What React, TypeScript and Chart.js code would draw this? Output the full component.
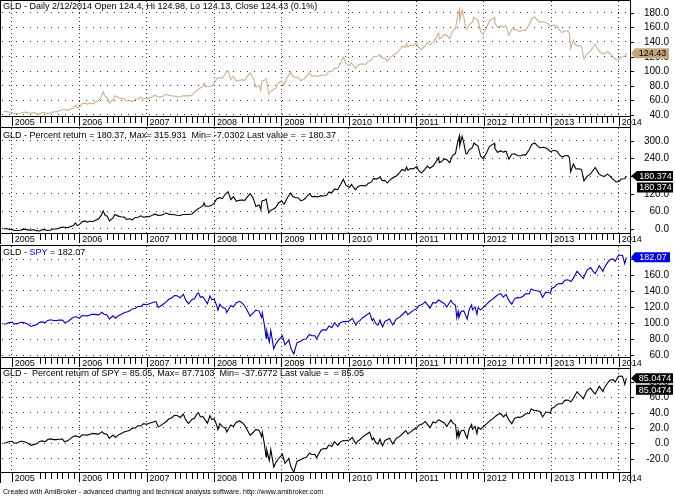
import React, { useEffect, useRef } from "react";
import { Chart, registerables } from "chart.js";
Chart.register(...registerables);

// ---------------- DATA ----------------
const gldDates = [
  "2004-11-18","2004-12-01","2004-12-15","2005-01-03","2005-01-14","2005-02-01","2005-02-15","2005-03-01","2005-03-15","2005-04-01",
  "2005-04-15","2005-05-02","2005-05-16","2005-06-01","2005-06-15","2005-07-01","2005-07-15","2005-08-01","2005-08-15","2005-09-01",
  "2005-09-15","2005-10-03","2005-10-14","2005-11-01","2005-11-15","2005-12-01","2005-12-12","2005-12-22","2006-01-03","2006-01-17",
  "2006-02-01","2006-02-15","2006-03-01","2006-03-15","2006-04-03","2006-04-17","2006-05-01","2006-05-11","2006-05-22","2006-06-01",
  "2006-06-14","2006-07-03","2006-07-14","2006-08-01","2006-08-15","2006-09-01","2006-09-15","2006-10-02","2006-10-16","2006-11-01",
  "2006-11-15","2006-12-01","2006-12-15","2007-01-03","2007-01-16","2007-02-01","2007-02-15","2007-03-01","2007-03-15","2007-04-02",
  "2007-04-16","2007-05-01","2007-05-15","2007-06-01","2007-06-15","2007-07-02","2007-07-16","2007-08-01","2007-08-15","2007-09-04",
  "2007-09-17","2007-10-01","2007-10-15","2007-11-01","2007-11-08","2007-11-15","2007-12-03","2007-12-17","2008-01-02","2008-01-15",
  "2008-02-01","2008-02-15","2008-03-03","2008-03-17","2008-04-01","2008-04-15","2008-05-01","2008-05-15","2008-06-02","2008-06-16",
  "2008-07-01","2008-07-15","2008-08-01","2008-08-15","2008-09-02","2008-09-11","2008-09-17","2008-10-01","2008-10-10","2008-10-24",
  "2008-11-03","2008-11-14","2008-12-01","2008-12-15","2009-01-02","2009-01-15","2009-02-02","2009-02-20","2009-03-02","2009-03-16",
  "2009-04-01","2009-04-15","2009-05-01","2009-05-15","2009-06-01","2009-06-15","2009-07-01","2009-07-15","2009-08-03","2009-08-17",
  "2009-09-01","2009-09-15","2009-10-01","2009-10-15","2009-11-02","2009-11-16","2009-12-02","2009-12-15","2010-01-04","2010-01-15",
  "2010-02-05","2010-02-16","2010-03-01","2010-03-15","2010-04-01","2010-04-15","2010-05-03","2010-05-14","2010-06-01","2010-06-18",
  "2010-07-01","2010-07-15","2010-07-28","2010-08-16","2010-09-01","2010-09-15","2010-10-01","2010-10-15","2010-11-01","2010-11-09",
  "2010-11-16","2010-12-01","2010-12-15","2011-01-03","2011-01-14","2011-01-28","2011-02-15","2011-03-01","2011-03-15","2011-04-01",
  "2011-04-15","2011-05-02","2011-05-05","2011-05-16","2011-06-01","2011-06-15","2011-07-01","2011-07-15","2011-08-01","2011-08-10",
  "2011-08-22","2011-08-24","2011-09-06","2011-09-15","2011-09-26","2011-10-03","2011-10-14","2011-11-01","2011-11-08","2011-11-15",
  "2011-12-01","2011-12-15","2011-12-29","2012-01-16","2012-02-01","2012-02-28","2012-03-01","2012-03-15","2012-04-02","2012-04-16",
  "2012-05-01","2012-05-16","2012-06-01","2012-06-15","2012-07-02","2012-07-16","2012-08-01","2012-08-15","2012-09-04","2012-09-17",
  "2012-10-04","2012-10-15","2012-11-01","2012-11-15","2012-12-03","2012-12-14","2012-12-28","2013-01-15","2013-02-01","2013-02-15",
  "2013-03-01","2013-03-15","2013-04-01","2013-04-10","2013-04-16","2013-05-01","2013-05-15","2013-06-03","2013-06-14","2013-06-27",
  "2013-07-15","2013-08-01","2013-08-27","2013-09-16","2013-10-01","2013-10-15","2013-11-01","2013-11-15","2013-12-02","2013-12-19",
  "2014-01-02","2014-01-15","2014-02-03","2014-02-12"
];
const gldClose = [
  44.38,45.2,43.9,43.7,42.1,42.1,42.4,43.4,44.1,42.7,
  42.7,43.3,41.9,41.3,43.6,43.1,42.1,42.9,44.3,44.4,
  45.9,47.2,47.1,46.4,48.2,49.5,53.5,49.5,51.3,55.3,
  56.6,54.6,56.3,55.3,58.1,59.8,65.2,71.8,64.8,64.0,
  56.5,61.1,66.3,63.8,62.8,62.3,58.8,59.8,58.3,61.8,
  62.1,64.3,62.1,63.0,62.8,65.3,66.8,65.3,64.8,66.1,
  68.7,66.8,66.3,65.8,65.2,64.7,66.2,66.2,66.2,67.0,
  70.7,73.7,76.2,79.2,83.6,78.7,78.7,79.7,83.2,89.6,
  91.6,90.1,97.1,100.7,88.6,93.1,86.1,87.6,88.1,87.6,
  93.1,97.6,90.6,78.2,80.7,73.7,86.7,87.6,89.6,68.7,
  72.7,73.7,76.7,83.6,86.6,81.6,91.6,98.6,93.6,91.6,
  91.6,87.1,88.6,92.6,97.6,93.1,93.6,92.6,94.6,94.1,
  95.1,100.0,99.5,104.5,104.0,111.0,119.2,110.5,107.3,111.6,
  103.5,107.5,109.5,110.0,109.5,113.0,115.4,120.4,119.7,122.6,
  117.4,117.6,113.7,119.5,122.4,124.4,128.9,134.2,132.3,137.8,
  133.0,135.6,135.0,138.7,132.5,129.0,134.0,139.3,136.0,139.4,
  144.8,152.4,144.5,145.7,150.0,149.0,144.4,154.6,158.4,172.0,
  184.59,170.0,184.0,173.8,157.9,158.0,163.7,167.5,174.0,172.6,
  169.5,154.0,150.3,159.5,169.0,173.5,166.0,160.1,162.1,160.3,
  161.7,149.5,157.2,157.8,155.2,154.4,156.3,155.9,164.2,171.8,
  174.1,170.5,166.6,167.6,166.5,164.6,161.0,163.1,161.8,156.1,
  152.8,154.8,155.2,151.6,130.8,142.4,134.9,135.1,134.0,116.9,
  124.1,127.1,137.1,127.5,124.6,123.7,127.2,124.2,119.1,115.3,
  116.1,119.7,120.1,124.43
];
const gldPctReturn = [
  0.0,1.8,-1.1,-1.5,-5.1,-5.1,-4.5,-2.2,-0.6,-3.8,
  -3.8,-2.4,-5.6,-6.9,-1.8,-2.9,-5.1,-3.3,-0.2,0.0,
  3.4,6.4,6.1,4.6,8.6,11.5,20.5,11.5,15.6,24.6,
  27.5,23.0,26.9,24.6,30.9,34.7,46.9,61.8,46.0,44.2,
  27.3,37.7,49.4,43.8,41.5,40.4,32.5,34.7,31.4,39.3,
  39.9,44.9,39.9,42.0,41.5,47.1,50.5,47.1,46.0,48.9,
  54.8,50.5,49.4,48.3,46.9,45.8,49.2,49.2,49.2,51.0,
  59.3,66.1,71.7,78.5,88.4,77.3,77.3,79.6,87.5,101.9,
  106.4,103.0,118.8,126.9,99.6,109.8,94.0,97.4,98.5,97.4,
  109.8,119.9,104.1,76.2,81.8,66.1,95.4,97.4,101.9,54.8,
  63.8,66.1,72.8,88.4,95.1,83.9,106.4,122.2,110.9,106.4,
  106.4,96.3,99.6,108.7,119.9,109.8,110.9,108.7,113.2,112.0,
  114.3,125.3,124.2,135.5,134.3,150.1,168.6,149.0,141.8,151.5,
  133.2,142.2,146.7,147.9,146.7,154.6,160.0,171.3,169.7,176.3,
  164.5,165.0,156.2,169.3,175.8,180.3,190.4,202.4,198.1,210.5,
  199.7,205.5,204.2,212.5,198.6,190.7,201.9,213.9,206.4,214.1,
  226.3,243.4,225.6,228.3,238.0,235.7,225.4,248.4,256.9,287.6,
  315.93,283.1,314.6,291.6,255.8,256.0,268.9,277.4,292.1,288.9,
  281.9,247.0,238.7,259.4,280.8,290.9,274.0,260.7,265.3,261.2,
  264.4,236.9,254.2,255.6,249.7,247.9,252.2,251.3,270.0,287.1,
  292.3,284.2,275.4,277.6,275.2,270.9,262.8,267.5,264.6,251.7,
  244.3,248.8,249.7,241.6,194.7,220.9,204.0,204.4,201.9,163.4,
  179.6,186.4,208.9,187.3,180.8,178.7,186.6,179.9,168.4,159.8,
  161.6,169.7,170.6,180.37
];

const spyDates = [
  "2004-11-18","2004-12-01","2004-12-15","2005-01-03","2005-01-14","2005-02-01","2005-02-15","2005-03-01","2005-03-15","2005-04-01",
  "2005-04-15","2005-05-02","2005-05-16","2005-06-01","2005-06-15","2005-07-01","2005-07-15","2005-08-01","2005-08-15","2005-09-01",
  "2005-09-15","2005-10-03","2005-10-14","2005-11-01","2005-11-15","2005-12-01","2005-12-15","2006-01-03","2006-01-17","2006-02-01",
  "2006-02-15","2006-03-01","2006-03-15","2006-04-03","2006-04-17","2006-05-05","2006-05-15","2006-06-01","2006-06-13","2006-07-03",
  "2006-07-17","2006-08-01","2006-08-15","2006-09-01","2006-09-15","2006-10-02","2006-10-16","2006-11-01","2006-11-15","2006-12-01",
  "2006-12-15","2007-01-03","2007-01-16","2007-02-01","2007-02-20","2007-03-05","2007-03-15","2007-04-02","2007-04-16","2007-05-01",
  "2007-05-15","2007-06-01","2007-06-15","2007-07-02","2007-07-19","2007-08-01","2007-08-16","2007-09-04","2007-09-17","2007-10-01",
  "2007-10-09","2007-10-19","2007-11-01","2007-11-15","2007-11-26","2007-12-10","2007-12-20","2008-01-02","2008-01-15","2008-01-22",
  "2008-02-01","2008-02-15","2008-03-03","2008-03-10","2008-04-01","2008-04-15","2008-05-01","2008-05-19","2008-06-02","2008-06-16",
  "2008-07-01","2008-07-15","2008-08-01","2008-08-15","2008-09-02","2008-09-15","2008-09-19","2008-09-29","2008-10-10","2008-10-13",
  "2008-10-27","2008-11-04","2008-11-20","2008-12-01","2008-12-15","2009-01-06","2009-01-20","2009-02-09","2009-02-23","2009-03-09",
  "2009-03-26","2009-04-15","2009-05-01","2009-05-15","2009-06-01","2009-06-15","2009-07-01","2009-07-10","2009-08-03","2009-08-17",
  "2009-09-01","2009-09-15","2009-10-01","2009-10-15","2009-11-02","2009-11-16","2009-12-01","2009-12-15","2010-01-04","2010-01-19",
  "2010-02-08","2010-02-16","2010-03-01","2010-03-15","2010-04-01","2010-04-23","2010-05-07","2010-05-14","2010-05-25","2010-06-07",
  "2010-06-18","2010-07-02","2010-07-15","2010-08-09","2010-08-26","2010-09-15","2010-10-01","2010-10-15","2010-11-05","2010-11-16",
  "2010-12-01","2010-12-15","2011-01-03","2011-01-14","2011-02-01","2011-02-18","2011-03-01","2011-03-16","2011-04-01","2011-04-15",
  "2011-05-02","2011-05-16","2011-06-01","2011-06-15","2011-07-07","2011-07-15","2011-08-01","2011-08-08","2011-08-15","2011-08-19",
  "2011-09-01","2011-09-15","2011-10-03","2011-10-14","2011-10-27","2011-11-01","2011-11-15","2011-11-25","2011-12-01","2011-12-15",
  "2012-01-03","2012-01-17","2012-02-01","2012-02-15","2012-03-01","2012-03-15","2012-04-02","2012-04-16","2012-05-01","2012-05-15",
  "2012-06-01","2012-06-15","2012-07-02","2012-07-16","2012-08-01","2012-08-15","2012-09-04","2012-09-14","2012-10-01","2012-10-15",
  "2012-11-01","2012-11-15","2012-12-03","2012-12-14","2012-12-28","2013-01-02","2013-01-15","2013-02-01","2013-02-15","2013-03-01",
  "2013-03-15","2013-04-01","2013-04-18","2013-05-01","2013-05-21","2013-06-03","2013-06-24","2013-07-01","2013-07-15","2013-08-02",
  "2013-08-15","2013-08-27","2013-09-18","2013-10-08","2013-10-15","2013-11-01","2013-11-15","2013-12-02","2013-12-13","2013-12-31",
  "2014-01-15","2014-01-22","2014-02-03","2014-02-12"
];
const spyClose = [
  98.39,99.1,100.3,101.0,98.6,99.2,100.7,101.0,100.1,98.1,
  95.7,97.0,97.7,100.8,101.4,100.4,103.2,104.0,103.1,103.1,
  103.6,103.8,100.4,101.8,104.4,107.3,107.8,106.0,109.2,109.1,
  108.9,110.0,111.1,110.5,110.1,113.3,110.8,110.0,104.8,109.0,
  106.0,109.1,110.6,112.9,113.7,115.2,117.9,118.1,120.7,120.8,
  123.6,122.9,124.1,125.4,126.8,119.5,120.7,123.7,126.0,129.6,
  131.0,134.2,134.1,131.5,136.0,128.5,123.9,129.4,130.4,136.1,
  137.7,132.2,133.0,128.1,124.2,133.8,129.1,129.8,122.1,115.9,
  123.6,119.7,118.1,113.0,121.8,120.0,125.4,127.1,124.9,121.3,
  114.8,108.6,112.6,116.2,114.9,106.9,112.6,99.2,80.7,90.1,
  76.2,90.4,67.7,73.5,78.2,84.3,72.7,78.6,67.2,61.32,
  75.4,77.3,79.6,80.1,85.6,84.0,84.1,80.1,90.0,91.7,
  91.2,96.3,94.2,100.4,95.6,100.3,101.8,101.7,102.6,105.9,
  97.5,100.9,102.9,106.3,109.0,112.7,102.9,105.3,99.7,97.4,
  103.8,95.0,101.9,104.9,97.6,105.0,107.0,110.0,114.7,110.4,
  113.1,115.8,118.1,121.5,123.0,126.4,123.0,118.5,125.7,124.7,
  128.7,126.6,124.5,120.0,128.4,125.0,122.2,106.4,114.5,106.8,
  114.6,115.2,104.8,116.9,122.7,116.4,120.2,110.9,119.1,116.4,
  120.6,123.7,127.2,129.2,132.2,135.0,136.8,132.2,135.7,128.6,
  123.6,129.9,132.0,131.6,133.5,136.4,136.7,142.6,140.6,140.4,
  139.3,132.2,138.5,138.2,137.3,143.1,144.3,148.4,149.3,149.2,
  153.5,153.9,151.8,156.1,164.7,161.1,155.6,159.6,166.5,169.4,
  164.8,161.7,171.5,164.7,169.0,175.5,179.3,180.2,177.1,184.6,
  184.69,184.3,174.2,182.07
];
const spyPctReturn = [
  0.0,0.7,1.9,2.7,0.2,0.8,2.3,2.7,1.7,-0.3,
  -2.7,-1.4,-0.7,2.4,3.1,2.0,4.9,5.7,4.8,4.8,
  5.3,5.5,2.0,3.5,6.1,9.1,9.6,7.7,11.0,10.9,
  10.7,11.8,12.9,12.3,11.9,15.2,12.6,11.8,6.5,10.8,
  7.7,10.9,12.4,14.7,15.6,17.1,19.8,20.0,22.7,22.8,
  25.6,24.9,26.1,27.5,28.9,21.5,22.7,25.7,28.1,31.7,
  33.1,36.4,36.3,33.7,38.2,30.6,25.9,31.5,32.5,38.3,
  40.0,34.4,35.2,30.2,26.2,36.0,31.2,31.9,24.1,17.8,
  25.6,21.7,20.0,14.8,23.8,22.0,27.5,29.2,26.9,23.3,
  16.7,10.4,14.4,18.1,16.8,8.6,14.4,0.8,-18.0,-8.4,
  -22.6,-8.1,-31.2,-25.3,-20.5,-14.3,-26.1,-20.1,-31.7,-37.68,
  -23.4,-21.4,-19.1,-18.6,-13.0,-14.6,-14.5,-18.6,-8.5,-6.8,
  -7.3,-2.1,-4.3,2.0,-2.8,1.9,3.5,3.4,4.3,7.6,
  -0.9,2.6,4.6,8.0,10.8,14.5,4.6,7.0,1.3,-1.0,
  5.5,-3.4,3.6,6.6,-0.8,6.7,8.7,11.8,16.6,12.2,
  14.9,17.7,20.0,23.5,25.0,28.5,25.0,20.4,27.8,26.7,
  30.8,28.7,26.5,22.0,30.5,27.0,24.2,8.1,16.4,8.5,
  16.5,17.1,6.5,18.8,24.7,18.3,22.2,12.7,21.0,18.3,
  22.6,25.7,29.3,31.3,34.4,37.2,39.0,34.4,37.9,30.7,
  25.6,32.0,34.2,33.8,35.7,38.6,38.9,44.9,42.9,42.7,
  41.6,34.4,40.8,40.5,39.5,45.4,46.7,50.8,51.7,51.6,
  56.0,56.4,54.3,58.7,67.4,63.7,58.1,62.2,69.2,72.2,
  67.5,64.3,74.3,67.4,71.8,78.4,82.2,83.1,80.0,87.6,
  87.71,87.3,77.0,85.05
];

const yearTicks = [2005, 2006, 2007, 2008, 2009, 2010, 2011, 2012, 2013, 2014];
const gldTicks = [40, 60, 80, 100, 120, 140, 160, 180];
const gldPctTicks = [0, 60, 120, 180, 240, 300];
const spyTicks = [60, 80, 100, 120, 140, 160, 180];
const spyPctTicks = [-20, 0, 20, 40, 60, 80];

// ---------------- LAYOUT / STYLE ----------------
const FONT = '"Liberation Sans", Arial, Helvetica, sans-serif';
const X_MIN = 2004.856;
const X_MAX = 2014.168;
const STRIP = 11;
const Y_AXIS_W = 45;

function toYear(s: string): number {
  const [y, m, d] = s.split("-").map(Number);
  const a = Date.UTC(y, 0, 1);
  const b = Date.UTC(y + 1, 0, 1);
  return y + (Date.UTC(y, m - 1, d) - a) / (b - a);
}

type Part = { text: string; color: string };
type Badge = { text: string; bg: string; fg: string };
interface PanelCfg {
  top: number;
  height: number;
  padBottom: number;
  dates: string[];
  values: number[];
  color: string;
  yMin: number;
  yMax: number;
  ticks: number[];
  title: Part[];
  titleY: number;
  badges: Badge[];
  badgeValue: number;
  badgeLeft: number;
  badgeRight: number;
  footer?: string;
}

const TAN = "#c4a57e";
const BLUE = "#0000c8";

const panels: PanelCfg[] = [
  {
    top: 0, height: 127, padBottom: 0,
    dates: gldDates, values: gldClose, color: "#cdb28e",
    yMin: 38.63, yMax: 196.0, ticks: gldTicks,
    title: [{ text: "GLD - Daily 2/12/2014 Open 124.4, Hi 124.98, Lo 124.13, Close 124.43 (0.1%)", color: "#000" }],
    titleY: 9,
    badges: [{ text: "124.43", bg: TAN, fg: "#000" }],
    badgeValue: 124.43, badgeLeft: 635, badgeRight: 669,
  },
  {
    top: 127, height: 117, padBottom: 0,
    dates: gldDates, values: gldPctReturn, color: "#000",
    yMin: -13.6, yMax: 343.2, ticks: gldPctTicks,
    title: [{ text: "GLD - Percent return = 180.37, Max= 315.931  Min= -7.0302 Last value =  = 180.37", color: "#000" }],
    titleY: 11,
    badges: [
      { text: "180.374", bg: "#000", fg: "#fff" },
      { text: "180.374", bg: "#000", fg: "#fff" },
    ],
    badgeValue: 180.374, badgeLeft: 637, badgeRight: 673,
  },
  {
    top: 245, height: 123, padBottom: 0,
    dates: spyDates, values: spyClose, color: BLUE,
    yMin: 57.5, yMax: 196.25, ticks: spyTicks,
    title: [
      { text: "GLD - ", color: "#000" },
      { text: "SPY", color: "#0000e0" },
      { text: " = 182.07", color: "#000" },
    ],
    titleY: 9.5,
    badges: [{ text: "182.07", bg: "#0000e6", fg: "#fff" }],
    badgeValue: 182.07, badgeLeft: 635, badgeRight: 670,
  },
  {
    top: 368, height: 129, padBottom: 14,
    dates: spyDates, values: spyPctReturn, color: "#000",
    yMin: -37.5, yMax: 97.0, ticks: spyPctTicks,
    title: [{ text: "GLD -  Percent return of SPY = 85.05, Max= 87.7103  Min= -37.6772 Last value =  = 85.05", color: "#000" }],
    titleY: 7.5,
    badges: [
      { text: "85.0474", bg: "#000", fg: "#fff" },
      { text: "85.0474", bg: "#000", fg: "#fff" },
    ],
    badgeValue: 85.0474, badgeLeft: 636, badgeRight: 673,
    footer: "Created with AmiBroker - advanced charting and technical analysis software. http://www.amibroker.com",
  },
];

// ---------------- PLUGIN ----------------
const amiPlugin = {
  id: "ami",
  afterDraw(chart: any) {
    const cfg: PanelCfg = chart.options.plugins.ami;
    const ctx: CanvasRenderingContext2D = chart.ctx;
    const { right, bottom } = chart.chartArea;
    const xs = chart.scales.x;
    const ys = chart.scales.y;
    const stripBottom = bottom + STRIP;
    ctx.save();

    // frame
    ctx.strokeStyle = "#000";
    ctx.lineWidth = 1;
    ctx.beginPath();
    ctx.moveTo(0, 0.5); ctx.lineTo(right, 0.5);
    ctx.moveTo(0, bottom + 0.5); ctx.lineTo(right, bottom + 0.5);
    ctx.moveTo(0.5, 0); ctx.lineTo(0.5, stripBottom);
    ctx.moveTo(right + 0.5, 0); ctx.lineTo(right + 0.5, stripBottom);
    ctx.stroke();

    // x strip: year ticks, labels, month ticks
    ctx.beginPath();
    for (const yr of yearTicks) {
      const px = Math.round(xs.getPixelForValue(yr)) + 0.5;
      ctx.moveTo(px, bottom); ctx.lineTo(px, bottom + 10);
      if (yr < 2014) {
        for (let m = 5; m < 12; m++) {
          const mx = Math.round(xs.getPixelForValue(yr + m / 12)) + 0.5;
          ctx.moveTo(mx, bottom); ctx.lineTo(mx, bottom + 7);
        }
      }
    }
    ctx.stroke();
    ctx.fillStyle = "#000";
    ctx.font = "9px " + FONT;
    ctx.textAlign = "left";
    ctx.textBaseline = "alphabetic";
    for (const yr of yearTicks) {
      const px = xs.getPixelForValue(yr);
      ctx.fillText(String(yr), px + 3, bottom + 9);
    }

    // y ticks + labels
    ctx.font = "10px " + FONT;
    ctx.textAlign = "right";
    ctx.textBaseline = "middle";
    ctx.beginPath();
    for (const v of cfg.ticks) {
      const py = Math.round(ys.getPixelForValue(v)) + 0.5;
      ctx.moveTo(right, py); ctx.lineTo(right + 4, py);
      ctx.fillText(v.toFixed(1), 669, py);
    }
    ctx.stroke();

    // title
    ctx.font = "9px " + FONT;
    ctx.textAlign = "left";
    ctx.textBaseline = "alphabetic";
    let tx = 3;
    for (const p of cfg.title) {
      ctx.fillStyle = p.color;
      ctx.fillText(p.text, tx, cfg.titleY);
      tx += ctx.measureText(p.text).width;
    }

    // badges
    const yc = ys.getPixelForValue(cfg.badgeValue);
    ctx.font = "9px " + FONT;
    ctx.textAlign = "center";
    ctx.textBaseline = "middle";
    cfg.badges.forEach((b, i) => {
      const c = yc + i * 11.5;
      const t = c - 5, bt = c + 5;
      ctx.fillStyle = b.bg;
      ctx.beginPath();
      if (i === 0) {
        ctx.moveTo(right + 1, c);
        ctx.lineTo(cfg.badgeLeft, t);
      } else {
        ctx.moveTo(cfg.badgeLeft, t);
      }
      ctx.lineTo(cfg.badgeRight, t);
      ctx.lineTo(cfg.badgeRight, bt);
      ctx.lineTo(cfg.badgeLeft, bt);
      ctx.closePath();
      ctx.fill();
      ctx.fillStyle = b.fg;
      ctx.fillText(b.text, (cfg.badgeLeft + cfg.badgeRight) / 2 + 0.5, c + 0.5);
    });

    // footer
    if (cfg.footer) {
      ctx.fillStyle = "#000";
      ctx.font = "7px " + FONT;
      ctx.textAlign = "left";
      ctx.textBaseline = "alphabetic";
      ctx.fillText(cfg.footer, 3, chart.height - 3);
    }
    ctx.restore();
  },
};

function Panel({ cfg }: { cfg: PanelCfg }) {
  const ref = useRef<HTMLCanvasElement>(null);
  useEffect(() => {
    const canvas = ref.current;
    if (!canvas) return;
    const data = cfg.dates.map((d, i) => ({ x: toYear(d), y: cfg.values[i] }));
    const chart = new Chart(canvas, {
      type: "line",
      data: {
        datasets: [
          {
            data,
            borderColor: cfg.color,
            borderWidth: 1.1,
            pointRadius: 0,
            tension: 0,
            fill: false,
          },
        ],
      },
      options: {
        animation: false,
        responsive: false,
        maintainAspectRatio: false,
        devicePixelRatio: 1,
        layout: { padding: { left: 2, top: 1, right: 0, bottom: cfg.padBottom } },
        plugins: {
          legend: { display: false },
          tooltip: { enabled: false },
          ami: cfg,
        } as any,
        scales: {
          x: {
            type: "linear",
            min: X_MIN,
            max: X_MAX,
            position: "bottom",
            afterBuildTicks: (s: any) => { s.ticks = yearTicks.map((v) => ({ value: v })); },
            afterFit: (s: any) => { s.height = STRIP; },
            ticks: { display: false },
            grid: { color: "#333", lineWidth: 1, drawTicks: false },
            border: { display: false, dash: [1, 3] },
          },
          y: {
            type: "linear",
            position: "right",
            min: cfg.yMin,
            max: cfg.yMax,
            afterBuildTicks: (s: any) => { s.ticks = cfg.ticks.map((v) => ({ value: v })); },
            afterFit: (s: any) => { s.width = Y_AXIS_W; },
            ticks: { display: false },
            grid: { color: "#333", lineWidth: 1, drawTicks: false },
            border: { display: false, dash: [1, 6] },
          },
        },
      } as any,
      plugins: [amiPlugin],
    });
    return () => chart.destroy();
  }, [cfg]);
  return (
    <canvas
      ref={ref}
      width={675}
      height={cfg.height}
      style={{ position: "absolute", left: 0, top: cfg.top, width: 675, height: cfg.height, display: "block" }}
    />
  );
}

export default function App() {
  return (
    <div style={{ position: "fixed", left: 0, top: 0, width: 675, height: 497, background: "#fff", overflow: "hidden" }}>
      {panels.map((p, i) => (
        <Panel key={i} cfg={p} />
      ))}
    </div>
  );
}
